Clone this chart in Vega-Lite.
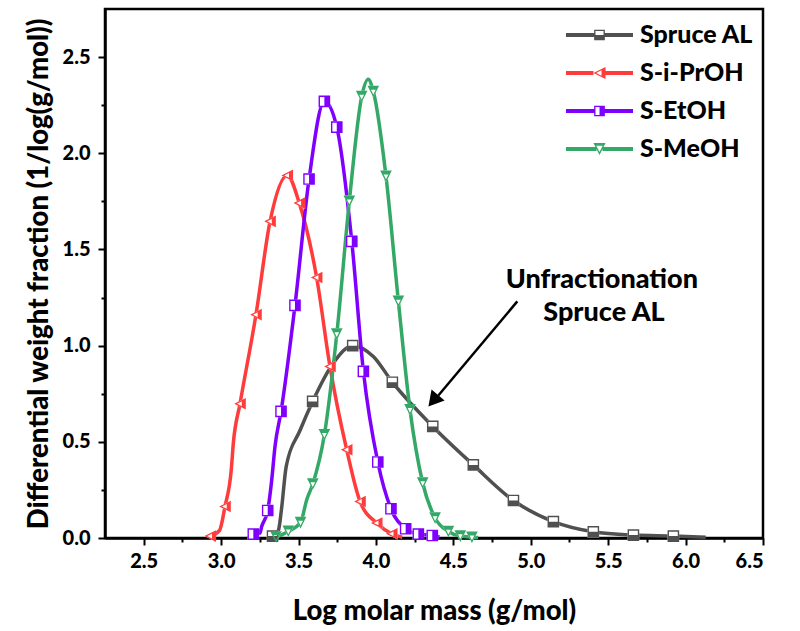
{
  "$schema": "https://vega.github.io/schema/vega-lite/v6.json",
  "width": 658,
  "height": 529,
  "autosize": {"type": "none"},
  "padding": {"left": 105, "top": 9, "right": 37, "bottom": 93},
  "background": "white",
  "config": {
    "view": {"stroke": "black", "strokeWidth": 2.5},
    "font": "Lato",
    "axis": {"domainColor": "black", "domainWidth": 2.5, "tickColor": "black", "tickWidth": 2, "labelColor": "black", "labelFont": "Lato", "labelFontWeight": 900, "labelFontSize": 20, "titleFont": "Lato", "titleFontWeight": 900, "titleFontSize": 27.5, "titleColor": "black", "grid": false}
  },
  "datasets": {
    "curves": [
      {"s": "Spruce AL", "x": 3.30, "y": 0.0, "mk": 0},
      {"s": "Spruce AL", "x": 3.332, "y": 0.01, "mk": 1},
      {"s": "Spruce AL", "x": 3.37, "y": 0.04, "mk": 0},
      {"s": "Spruce AL", "x": 3.39, "y": 0.15, "mk": 0},
      {"s": "Spruce AL", "x": 3.42, "y": 0.37, "mk": 0},
      {"s": "Spruce AL", "x": 3.51, "y": 0.56, "mk": 0},
      {"s": "Spruce AL", "x": 3.591, "y": 0.71, "mk": 1},
      {"s": "Spruce AL", "x": 3.725, "y": 0.91, "mk": 0},
      {"s": "Spruce AL", "x": 3.85, "y": 1.0, "mk": 1},
      {"s": "Spruce AL", "x": 3.983, "y": 0.944, "mk": 0},
      {"s": "Spruce AL", "x": 4.106, "y": 0.81, "mk": 1},
      {"s": "Spruce AL", "x": 4.367, "y": 0.58, "mk": 1},
      {"s": "Spruce AL", "x": 4.629, "y": 0.38, "mk": 1},
      {"s": "Spruce AL", "x": 4.888, "y": 0.195, "mk": 1},
      {"s": "Spruce AL", "x": 5.146, "y": 0.085, "mk": 1},
      {"s": "Spruce AL", "x": 5.404, "y": 0.032, "mk": 1},
      {"s": "Spruce AL", "x": 5.663, "y": 0.015, "mk": 1},
      {"s": "Spruce AL", "x": 5.921, "y": 0.01, "mk": 1},
      {"s": "Spruce AL", "x": 6.13, "y": 0.004, "mk": 0},
      {"s": "S-i-PrOH", "x": 2.93, "y": 0.01, "mk": 1},
      {"s": "S-i-PrOH", "x": 2.99, "y": 0.04, "mk": 0},
      {"s": "S-i-PrOH", "x": 3.025, "y": 0.164, "mk": 1},
      {"s": "S-i-PrOH", "x": 3.065, "y": 0.35, "mk": 0},
      {"s": "S-i-PrOH", "x": 3.079, "y": 0.494, "mk": 0},
      {"s": "S-i-PrOH", "x": 3.122, "y": 0.698, "mk": 1},
      {"s": "S-i-PrOH", "x": 3.225, "y": 1.161, "mk": 1},
      {"s": "S-i-PrOH", "x": 3.316, "y": 1.646, "mk": 1},
      {"s": "S-i-PrOH", "x": 3.427, "y": 1.885, "mk": 1},
      {"s": "S-i-PrOH", "x": 3.505, "y": 1.741, "mk": 1},
      {"s": "S-i-PrOH", "x": 3.617, "y": 1.354, "mk": 1},
      {"s": "S-i-PrOH", "x": 3.703, "y": 0.892, "mk": 1},
      {"s": "S-i-PrOH", "x": 3.811, "y": 0.459, "mk": 1},
      {"s": "S-i-PrOH", "x": 3.897, "y": 0.19, "mk": 1},
      {"s": "S-i-PrOH", "x": 4.005, "y": 0.078, "mk": 1},
      {"s": "S-i-PrOH", "x": 4.102, "y": 0.022, "mk": 1},
      {"s": "S-i-PrOH", "x": 4.17, "y": 0.004, "mk": 0},
      {"s": "S-EtOH", "x": 3.175, "y": 0.0, "mk": 0},
      {"s": "S-EtOH", "x": 3.208, "y": 0.02, "mk": 1},
      {"s": "S-EtOH", "x": 3.25, "y": 0.025, "mk": 0},
      {"s": "S-EtOH", "x": 3.262, "y": 0.06, "mk": 0},
      {"s": "S-EtOH", "x": 3.301, "y": 0.143, "mk": 1},
      {"s": "S-EtOH", "x": 3.327, "y": 0.303, "mk": 0},
      {"s": "S-EtOH", "x": 3.348, "y": 0.476, "mk": 0},
      {"s": "S-EtOH", "x": 3.387, "y": 0.658, "mk": 1},
      {"s": "S-EtOH", "x": 3.477, "y": 1.209, "mk": 1},
      {"s": "S-EtOH", "x": 3.568, "y": 1.866, "mk": 1},
      {"s": "S-EtOH", "x": 3.667, "y": 2.27, "mk": 1},
      {"s": "S-EtOH", "x": 3.747, "y": 2.136, "mk": 1},
      {"s": "S-EtOH", "x": 3.844, "y": 1.542, "mk": 1},
      {"s": "S-EtOH", "x": 3.919, "y": 0.866, "mk": 1},
      {"s": "S-EtOH", "x": 4.012, "y": 0.395, "mk": 1},
      {"s": "S-EtOH", "x": 4.097, "y": 0.152, "mk": 1},
      {"s": "S-EtOH", "x": 4.192, "y": 0.048, "mk": 1},
      {"s": "S-EtOH", "x": 4.274, "y": 0.02, "mk": 1},
      {"s": "S-EtOH", "x": 4.364, "y": 0.013, "mk": 1},
      {"s": "S-EtOH", "x": 4.41, "y": 0.005, "mk": 0},
      {"s": "S-MeOH", "x": 3.33, "y": 0.0, "mk": 0},
      {"s": "S-MeOH", "x": 3.355, "y": 0.005, "mk": 1},
      {"s": "S-MeOH", "x": 3.434, "y": 0.035, "mk": 1},
      {"s": "S-MeOH", "x": 3.513, "y": 0.08, "mk": 1},
      {"s": "S-MeOH", "x": 3.553, "y": 0.199, "mk": 0},
      {"s": "S-MeOH", "x": 3.592, "y": 0.281, "mk": 1},
      {"s": "S-MeOH", "x": 3.667, "y": 0.537, "mk": 1},
      {"s": "S-MeOH", "x": 3.747, "y": 1.06, "mk": 1},
      {"s": "S-MeOH", "x": 3.828, "y": 1.75, "mk": 1},
      {"s": "S-MeOH", "x": 3.908, "y": 2.295, "mk": 1},
      {"s": "S-MeOH", "x": 3.95, "y": 2.385, "mk": 0},
      {"s": "S-MeOH", "x": 3.983, "y": 2.321, "mk": 1},
      {"s": "S-MeOH", "x": 4.065, "y": 1.88, "mk": 1},
      {"s": "S-MeOH", "x": 4.145, "y": 1.23, "mk": 1},
      {"s": "S-MeOH", "x": 4.22, "y": 0.667, "mk": 1},
      {"s": "S-MeOH", "x": 4.302, "y": 0.286, "mk": 1},
      {"s": "S-MeOH", "x": 4.382, "y": 0.104, "mk": 1},
      {"s": "S-MeOH", "x": 4.468, "y": 0.034, "mk": 1},
      {"s": "S-MeOH", "x": 4.545, "y": 0.01, "mk": 1},
      {"s": "S-MeOH", "x": 4.62, "y": 0.004, "mk": 1},
      {"s": "S-MeOH", "x": 4.66, "y": 0.002, "mk": 0}
    ]
  },
  "layer": [
    {
      "data": {"name": "curves"},
      "mark": {"type": "line", "interpolate": "monotone", "strokeWidth": 3.5},
      "encoding": {
        "x": {"field": "x", "type": "quantitative", "scale": {"domain": [2.25, 6.5], "nice": false, "zero": false},
          "axis": {"orient": "bottom", "values": [2.5, 3, 3.5, 4, 4.5, 5, 5.5, 6, 6.5], "format": ".1f", "tickSize": 7, "labelPadding": 6, "title": "Log molar mass (g/mol)", "titlePadding": 26}},
        "y": {"field": "y", "type": "quantitative", "scale": {"domain": [0, 2.75], "nice": false},
          "axis": {"orient": "left", "values": [0, 0.5, 1, 1.5, 2, 2.5], "format": ".1f", "tickSize": 7, "labelPadding": 8, "title": "Differential weight fraction (1/log(g/mol))", "titlePadding": 9}},
        "color": {"field": "s", "type": "nominal", "scale": {"domain": ["Spruce AL", "S-i-PrOH", "S-EtOH", "S-MeOH"], "range": ["#505050", "#FF3B3B", "#7F00FF", "#33A867"]}, "legend": null}
      }
    },
    {
      "data": {"name": "curves"},
      "transform": [{"filter": "datum.mk == 1"}],
      "mark": {"type": "point", "filled": true, "fill": "white", "opacity": 1, "size": 135, "strokeWidth": 0},
      "encoding": {
        "x": {"field": "x", "type": "quantitative", "axis": {"orient": "bottom", "values": [2.75, 3.25, 3.75, 4.25, 4.75, 5.25, 5.75, 6.25], "labels": false, "domain": false, "tickSize": 4, "title": null}},
        "y": {"field": "y", "type": "quantitative", "axis": {"orient": "left", "values": [0.25, 0.75, 1.25, 1.75, 2.25], "labels": false, "domain": false, "tickSize": 4, "title": null}},
        "shape": {"field": "s", "type": "nominal", "scale": {"domain": ["Spruce AL", "S-i-PrOH", "S-EtOH", "S-MeOH"], "range": ["M-1,-1H1V1H-1Z", "M-1,0L1,-1L1,1Z", "M-1,-1H1V1H-1Z", "M-1,-1L1,-1L0,1Z"]}, "legend": null}
      }
    },
    {
      "data": {"name": "curves"},
      "transform": [{"filter": "datum.mk == 1"}],
      "mark": {"type": "point", "filled": true, "opacity": 1, "size": 135, "strokeWidth": 0},
      "encoding": {
        "x": {"field": "x", "type": "quantitative", "axis": null},
        "y": {"field": "y", "type": "quantitative", "axis": null},
        "color": {"field": "s", "type": "nominal", "scale": {"domain": ["Spruce AL", "S-i-PrOH", "S-EtOH", "S-MeOH"], "range": ["#505050", "#FF3B3B", "#7F00FF", "#33A867"]}, "legend": null},
        "shape": {"field": "s", "type": "nominal", "scale": {"domain": ["Spruce AL", "S-i-PrOH", "S-EtOH", "S-MeOH"], "range": ["M-1,-1H1V1H-1Z M-0.76,-0.76V0H0.76V-0.76Z", "M-1,0L1,-1L1,1Z M-0.51,0L0.3,0.405L0.3,-0.405Z", "M-1,-1H1V1H-1Z M-0.76,-0.76V0.76H0V-0.76Z", "M-1,-1L1,-1L0,1Z M-0.405,-0.3L0,0.51L0.405,-0.3Z"]}, "legend": null}
      }
    },
    {
      "data": {"name": "curves"},
      "transform": [{"filter": "datum.x > 100"}],
      "mark": {"type": "point", "filled": true, "opacity": 1, "strokeWidth": 0},
      "encoding": {
        "x": {"field": "x", "type": "quantitative", "axis": null},
        "y": {"field": "y", "type": "quantitative", "axis": null},
        "color": {"field": "s", "type": "nominal", "scale": {"domain": ["Spruce AL", "S-i-PrOH", "S-EtOH", "S-MeOH"], "range": ["#505050", "#FF3B3B", "#7F00FF", "#33A867"]},
          "legend": {"orient": "none", "legendX": 461, "legendY": 7, "title": null, "padding": 0, "symbolSize": 4489, "symbolStrokeWidth": 0, "labelFont": "Lato", "labelFontSize": 25, "labelFontWeight": 900, "labelColor": "black", "labelOffset": 7, "rowPadding": 0, "clipHeight": 38}},
        "shape": {"field": "s", "type": "nominal", "scale": {"domain": ["Spruce AL", "S-i-PrOH", "S-EtOH", "S-MeOH"], "range": [
          "M-1,-0.06H-0.16V0.06H-1Z M0.16,-0.06H1V0.06H0.16Z M-0.16,-0.16H0.16V0.16H-0.16Z M-0.12,-0.12V0H0.12V-0.12Z",
          "M-1,-0.06H-0.18V0.06H-1Z M0.18,-0.06H1V0.06H0.18Z M-0.18,0L0.18,-0.18L0.18,0.18Z M-0.1,0L0.06,0.08L0.06,-0.08Z",
          "M-1,-0.06H-0.16V0.06H-1Z M0.16,-0.06H1V0.06H0.16Z M-0.16,-0.16H0.16V0.16H-0.16Z M-0.12,-0.12V0.12H0V-0.12Z",
          "M-1,-0.06H-0.09V0.06H-1Z M0.09,-0.06H1V0.06H0.09Z M-0.18,-0.18L0.18,-0.18L0,0.18Z M-0.095,-0.1L0,0.09L0.095,-0.1Z"
        ]},
          "legend": {"orient": "none", "legendX": 461, "legendY": 7, "title": null, "padding": 0, "symbolSize": 4489, "symbolStrokeWidth": 0, "labelFont": "Lato", "labelFontSize": 25, "labelFontWeight": 900, "labelColor": "black", "labelOffset": 7, "rowPadding": 0, "clipHeight": 38}}
      }
    },
    {
      "data": {"values": [{"x": 4.913, "y": 1.23, "x2": 4.403, "y2": 0.741}]},
      "mark": {"type": "rule", "strokeWidth": 2.5, "color": "black"},
      "encoding": {
        "x": {"field": "x", "type": "quantitative", "axis": null},
        "y": {"field": "y", "type": "quantitative", "axis": null},
        "x2": {"field": "x2"},
        "y2": {"field": "y2"}
      }
    },
    {
      "data": {"values": [{"x": 4.339, "y": 0.684}]},
      "mark": {"type": "point", "filled": true, "opacity": 1, "color": "black", "strokeWidth": 0, "size": 900, "angle": 220, "shape": "M0,0L0.57,1L-0.57,1Z"},
      "encoding": {
        "x": {"field": "x", "type": "quantitative", "axis": null},
        "y": {"field": "y", "type": "quantitative", "axis": null}
      }
    },
    {
      "data": {"values": [{"x": 5.459, "y": 1.343, "t": "Unfractionation"}, {"x": 5.473, "y": 1.171, "t": "Spruce AL"}]},
      "mark": {"type": "text", "font": "Lato", "fontSize": 27, "fontWeight": 900, "color": "black", "align": "center", "baseline": "middle"},
      "encoding": {
        "x": {"field": "x", "type": "quantitative", "axis": null},
        "y": {"field": "y", "type": "quantitative", "axis": null},
        "text": {"field": "t"}
      }
    }
  ],
  "resolve": {"scale": {"color": "independent", "shape": "independent"}, "axis": {"x": "independent", "y": "independent"}}
}
